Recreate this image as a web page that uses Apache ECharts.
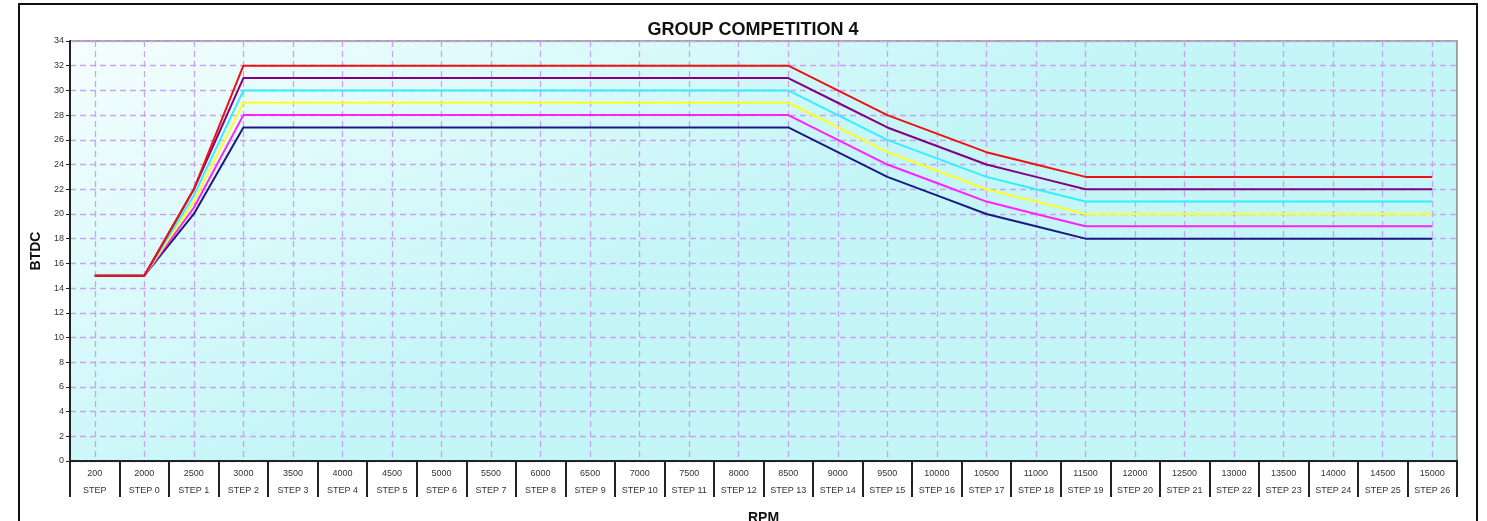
<!DOCTYPE html>
<html>
<head>
<meta charset="utf-8">
<script src="https://cdn.jsdelivr.net/npm/echarts@6/dist/echarts.min.js"></script>
<style>
html,body{margin:0;padding:0;background:#fff;}
#chart{width:1487px;height:521px;}
</style>
</head>
<body>
<div id="chart"></div>
<script>
const rpm = ['200','2000','2500','3000','3500','4000','4500','5000','5500','6000','6500','7000','7500','8000','8500','9000','9500','10000','10500','11000','11500','12000','12500','13000','13500','14000','14500','15000'];
const steps = ['STEP','STEP 0','STEP 1','STEP 2','STEP 3','STEP 4','STEP 5','STEP 6','STEP 7','STEP 8','STEP 9','STEP 10','STEP 11','STEP 12','STEP 13','STEP 14','STEP 15','STEP 16','STEP 17','STEP 18','STEP 19','STEP 20','STEP 21','STEP 22','STEP 23','STEP 24','STEP 25','STEP 26'];
const yTicks = [0,2,4,6,8,10,12,14,16,18,20,22,24,26,28,30,32,34];

const redSeries     = [15,15,22,32,32,32,32,32,32,32,32,32,32,32,32,30,28,26.5,25,24,23,23,23,23,23,23,23,23];
const purpleSeries  = [15,15,22,31,31,31,31,31,31,31,31,31,31,31,31,29,27,25.5,24,23,22,22,22,22,22,22,22,22];
const cyanSeries    = [15,15,21.5,30,30,30,30,30,30,30,30,30,30,30,30,28,26,24.5,23,22,21,21,21,21,21,21,21,21];
const yellowSeries  = [15,15,21,29,29,29,29,29,29,29,29,29,29,29,29,27,25,23.5,22,21,20,20,20,20,20,20,20,20];
const magentaSeries = [15,15,20.5,28,28,28,28,28,28,28,28,28,28,28,28,26,24,22.5,21,20,19,19,19,19,19,19,19,19];
const navySeries    = [15,15,20,27,27,27,27,27,27,27,27,27,27,27,27,25,23,21.5,20,19,18,18,18,18,18,18,18,18];
</script>
<script>
const cats = [];
for (let i = 0; i < steps.length; i++) cats.push(rpm[i] + '\n' + steps[i]);
const chart = echarts.init(document.getElementById('chart'));
const seriesDefs = [
  {name:'navy', data: navySeries, color:'#1a1a80'},
  {name:'magenta', data: magentaSeries, color:'#ff22ff'},
  {name:'yellow', data: yellowSeries, color:'#ffff22'},
  {name:'cyan', data: cyanSeries, color:'#33eeff'},
  {name:'purple', data: purpleSeries, color:'#800080'},
  {name:'red', data: redSeries, color:'#ee1111'}
];
const gridLine = {color: '#c9a3f2', type: [6, 4], width: 1.3};
const option = {
  animation: false,
  backgroundColor: '#ffffff',
  title: {
    text: 'GROUP COMPETITION 4',
    left: 748, top: 16, textAlign: 'center',
    textStyle: {fontFamily: 'Liberation Sans, Arial', fontSize: 18, fontWeight: 'bold', color: '#111'}
  },
  graphic: [{
    type: 'rect', z: -10, silent: true,
    shape: {x: 19, y: 4, width: 1458, height: 700},
    style: {fill: 'none', stroke: '#111', lineWidth: 2}
  }],
  grid: {
    left: 70, right: 30, top: 41, bottom: 60,
    outerBoundsMode: 'none',
    containLabel: false,
    show: true,
    borderColor: '#888', borderWidth: 1.5,
    backgroundColor: new echarts.graphic.LinearGradient(0, 0, 0.15, 1, [
      {offset: 0, color: '#f6fefe'},
      {offset: 0.5, color: '#dcfafb'},
      {offset: 1, color: '#c4f5f7'}
    ])
  },
  xAxis: {
    type: 'category',
    data: cats,
    boundaryGap: true,
    name: 'RPM',
    nameLocation: 'middle',
    nameGap: 50,
    nameTextStyle: {fontFamily: 'Liberation Sans, Arial', fontSize: 14, fontWeight: 'bold', color: '#111'},
    axisLine: {lineStyle: {color: '#222', width: 2}},
    axisTick: {show: true, length: 36, lineStyle: {color: '#222', width: 2}},
    axisLabel: {interval: 0, fontFamily: 'Liberation Sans, Arial', fontSize: 9, lineHeight: 17, color: '#333', margin: 4},
    splitLine: {show: true, alignWithLabel: true, interval: 0, lineStyle: gridLine}
  },
  yAxis: {
    type: 'value',
    min: yTicks[0], max: yTicks[yTicks.length - 1], interval: yTicks[1] - yTicks[0],
    name: 'BTDC',
    nameLocation: 'middle',
    nameGap: 23,
    nameTextStyle: {fontFamily: 'Liberation Sans, Arial', fontSize: 14, fontWeight: 'bold', color: '#111'},
    axisLine: {show: true, lineStyle: {color: '#222', width: 2}},
    axisTick: {show: true, length: 4, lineStyle: {color: '#222'}},
    axisLabel: {fontFamily: 'Liberation Sans, Arial', fontSize: 9, color: '#333', margin: 6},
    splitLine: {show: true, lineStyle: gridLine}
  },
  series: seriesDefs.map(s => ({
    name: s.name, type: 'line', data: s.data,
    symbol: 'none', lineStyle: {color: s.color, width: 2}, itemStyle: {color: s.color}
  }))
};
chart.setOption(option);
</script>
</body>
</html>
